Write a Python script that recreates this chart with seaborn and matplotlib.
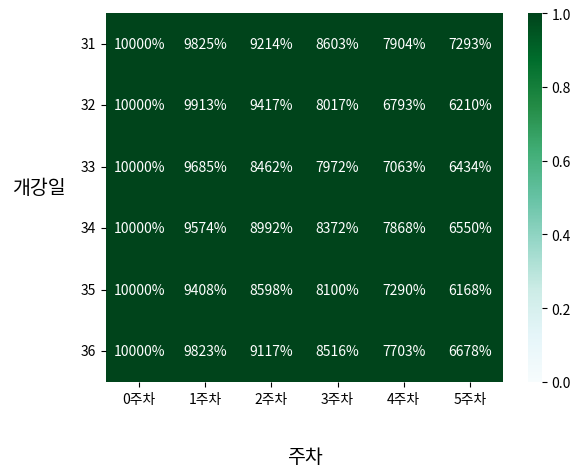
import numpy as np
import pandas as pd
import matplotlib
matplotlib.use('Agg')
import matplotlib.pyplot as plt
import seaborn as sns

# retention (percent) per cohort by week
cohorts = [31, 32, 33, 34, 35, 36]
weeks = ['0주차', '1주차', '2주차', '3주차', '4주차', '5주차']
week0 = [100.00, 100.00, 100.00, 100.00, 100.00, 100.00]
week1 = [98.25, 99.13, 96.85, 95.74, 94.08, 98.23]
week2 = [92.14, 94.17, 84.62, 89.92, 85.98, 91.17]
week3 = [86.03, 80.17, 79.72, 83.72, 81.00, 85.16]
week4 = [79.04, 67.93, 70.63, 78.68, 72.90, 77.03]
week5 = [72.93, 62.10, 64.34, 65.50, 61.68, 66.78]

df = pd.DataFrame({'0주차': week0, '1주차': week1, '2주차': week2,
                   '3주차': week3, '4주차': week4, '5주차': week5},
                  index=cohorts)
df = df[weeks]

plt.rcParams['font.family'] = ['Noto Sans CJK KR', 'DejaVu Sans']
plt.rcParams['axes.unicode_minus'] = False

fig = plt.figure(figsize=(5.86, 4.77), dpi=100)
ax = fig.add_axes([106 / 586, 1 - 383 / 477, 397 / 586, 369 / 477])
cax = fig.add_axes([528 / 586, 1 - 383 / 477, 14 / 586, 369 / 477])
sns.heatmap(df, annot=True, fmt='.0%', cmap='BuGn', vmin=0, vmax=1,
            ax=ax, cbar_ax=cax, annot_kws={'fontsize': 10})
ax.set_xlabel('주차', fontsize=14, labelpad=29)
ax.set_ylabel('개강일', fontsize=14, rotation=0, labelpad=30)
ax.tick_params(axis='y', rotation=0)
plt.savefig('out.png', dpi=100)
plt.close()
